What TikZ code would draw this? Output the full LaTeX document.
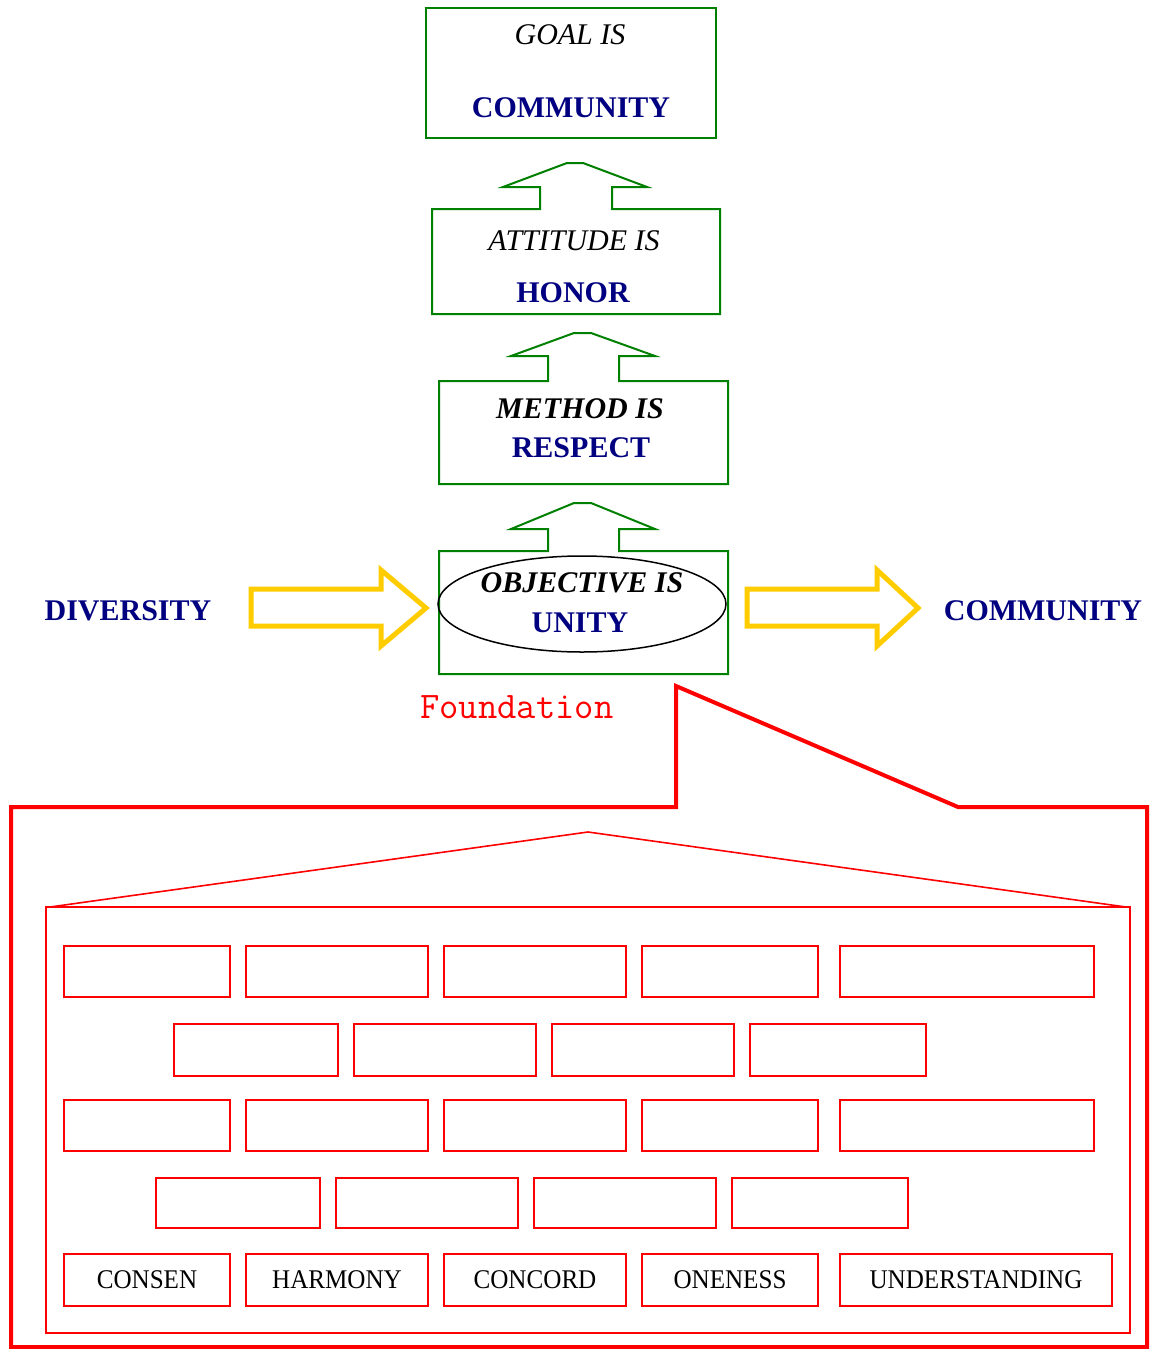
\documentclass[tikz,border=0pt]{standalone}
\usepackage{fontspec}
\setmainfont{Liberation Serif}
\newfontfamily\condfont[FakeStretch=0.93]{Liberation Serif}
\definecolor{navy}{RGB}{0,0,128}
\definecolor{dgreen}{RGB}{0,128,0}
\definecolor{gold}{RGB}{255,204,0}
\definecolor{pred}{RGB}{255,0,0}
\begin{document}
\begin{tikzpicture}[x=1pt,y=-1pt,
  big/.style={font=\fontsize{30}{36}\selectfont, inner sep=0pt, anchor=base},
  blue/.style={big, text=navy, font=\fontsize{30}{36}\selectfont\bfseries},
  itl/.style={big, font=\fontsize{30}{36}\selectfont\itshape},
  bitl/.style={big, font=\fontsize{30}{36}\selectfont\bfseries\itshape},
  gbox/.style={draw=dgreen, line width=2pt, line join=miter},
  yarrow/.style={draw=gold, line width=5pt, line join=miter},
  brick/.style={draw=pred, line width=2pt},
  bricklabel/.style={font=\condfont\fontsize{27}{30}\selectfont, inner sep=0pt, anchor=base}
]
\useasboundingbox (0,0) rectangle (1155,1349);

% Goal box
\draw[draw=dgreen, line width=1.5pt] (426,8) rectangle (716,138);
\node[itl] (goal) at (570,44) {GOAL IS};
\node[blue] (goalc) at (571,117) {COMMUNITY};

% Attitude box with up arrow
\draw[gbox] (432,209) -- (540,209) -- (540,187) -- (503,187) -- (567,163) -- (583,163) -- (647,187) -- (612,187) -- (612,209) -- (720,209) -- (720,314) -- (432,314) -- cycle;
\node[itl] (att) at (574,250) {ATTITUDE IS};
\node[blue] (hon) at (573,302) {HONOR};

% Method box
\draw[gbox] (439,381) -- (548,381) -- (548,356) -- (511,356) -- (574,333) -- (591,333) -- (655,356) -- (619,356) -- (619,381) -- (728,381) -- (728,484) -- (439,484) -- cycle;
\node[bitl] (meth) at (580,418) {METHOD IS};
\node[blue] (resp) at (581,457) {RESPECT};

% Objective box
\draw[gbox] (439,551) -- (548,551) -- (548,529) -- (511,529) -- (574,503) -- (591,503) -- (655,529) -- (619,529) -- (619,551) -- (728,551) -- (728,674) -- (439,674) -- cycle;
\draw[black, line width=1.5pt] (582,604) ellipse [x radius=144, y radius=48];
\node[bitl] (obj) at (582,592) {OBJECTIVE IS};
\node[blue] (unity) at (580,632) {UNITY};

% Side labels
\node[blue] (div) at (128,620) {DIVERSITY};
\node[blue] (comm) at (1043,620) {COMMUNITY};

% Yellow block arrows
\draw[yarrow] (251,589) -- (381,589) -- (381,570) -- (426,608) -- (381,646) -- (381,626) -- (251,626) -- cycle;
\draw[yarrow] (747,589) -- (877,589) -- (877,570) -- (918,608) -- (877,646) -- (877,626) -- (747,626) -- cycle;

% Foundation label
\node[font=\fontsize{37.5}{40}\selectfont\ttfamily, text=pred, inner sep=0pt, anchor=base west] (found) at (420,718) {Foundation};

% Outer callout
\draw[draw=pred, line width=4pt, line join=miter] (11,807) -- (676,807) -- (676,686) -- (958,807) -- (1147,807) -- (1147,1347) -- (11,1347) -- cycle;

% Inner house
\draw[draw=pred, line width=2pt] (46,907) rectangle (1130,1333);
\draw[draw=pred, line width=1.6pt] (50,907) -- (588,832) -- (1126,907);

% Bricks
\foreach \y in {946,1100}{
  \foreach \a/\b in {64/230,246/428,444/626,642/818,840/1094}{
    \draw[brick] (\a,\y) rectangle (\b,\y+51);
  }
}
\foreach \a/\b in {174/338,354/536,552/734,750/926}{
  \draw[brick] (\a,1024) rectangle (\b,1076);
}
\foreach \a/\b in {156/320,336/518,534/716,732/908}{
  \draw[brick] (\a,1178) rectangle (\b,1228);
}
\foreach \a/\b/\t/\n in {64/230/CONSEN/l1,246/428/HARMONY/l2,444/626/CONCORD/l3,642/818/ONENESS/l4,840/1112/UNDERSTANDING/l5}{
  \draw[brick] (\a,1254) rectangle (\b,1306);
  \node[bricklabel] (\n) at ({(\a+\b)/2},1288) {\t};
}
\end{tikzpicture}
\end{document}
